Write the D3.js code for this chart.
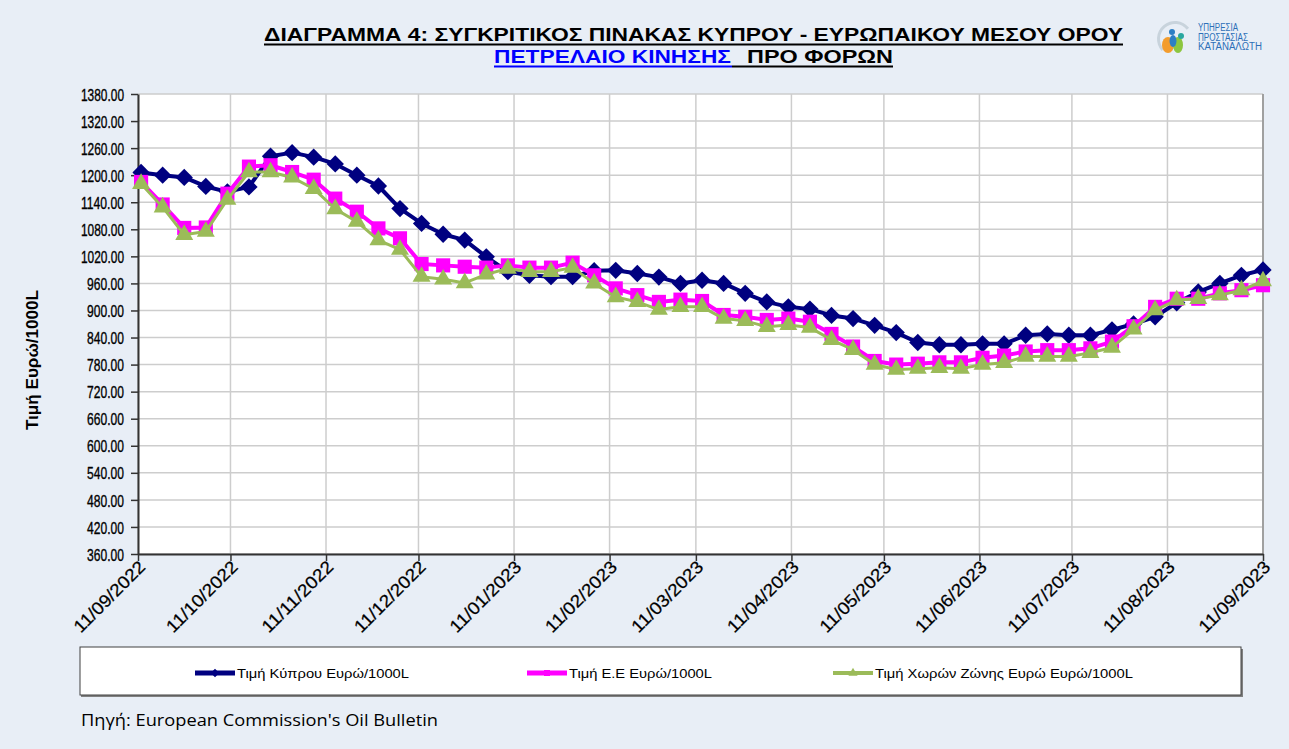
<!DOCTYPE html>
<html>
<head>
<meta charset="utf-8">
<script src="https://cdn.jsdelivr.net/npm/d3@7"></script>
<style>
  body { margin: 0; background: #e8eef6; }
  svg { display: block; }
</style>
</head>
<body>
<div id="chart"></div>
<script>
// weekly dates of the Oil Bulletin
var dates = ["2022-09-12","2022-09-19","2022-09-26","2022-10-03","2022-10-10","2022-10-17","2022-10-24","2022-10-31",
  "2022-11-07","2022-11-14","2022-11-21","2022-11-28","2022-12-05","2022-12-12","2022-12-19","2022-12-26",
  "2023-01-02","2023-01-09","2023-01-16","2023-01-23","2023-01-30","2023-02-06","2023-02-13","2023-02-20","2023-02-27",
  "2023-03-06","2023-03-13","2023-03-20","2023-03-27","2023-04-03","2023-04-10","2023-04-17","2023-04-24",
  "2023-05-01","2023-05-08","2023-05-15","2023-05-22","2023-05-29","2023-06-05","2023-06-12","2023-06-19","2023-06-26",
  "2023-07-03","2023-07-10","2023-07-17","2023-07-24","2023-07-31","2023-08-07","2023-08-14","2023-08-21","2023-08-28",
  "2023-09-04","2023-09-11"];

// Τιμή Κύπρου
var cyprus = [1206,1200,1195,1175,1163,1174,1242,1250,1240,1225,1200,1176,1126,1093,1069,1056,1019,986,978,975,975,
  988,989,982,974,960,967,960,938,919,908,903,889,882,867,851,829,824,824,826,826,845,848,845,845,857,870,886,917,941,960,978,990];
// Τιμή Ε.Ε
var eu = [1185,1135,1083,1084,1159,1219,1222,1207,1190,1148,1119,1082,1060,1003,1000,997,995,1000,995,995,1006,
  978,949,934,919,924,921,890,886,879,882,875,848,820,788,780,782,785,785,795,800,809,812,812,816,831,865,908,926,926,938,945,956];
// Τιμή Χωρών Ζώνης Ευρώ
var euroZone = [1181,1129,1068,1075,1146,1207,1207,1195,1170,1125,1097,1056,1035,975,969,961,980,993,986,986,995,
  960,930,919,902,908,908,882,877,864,868,862,835,813,780,769,771,773,771,780,784,798,798,798,806,818,858,901,923,926,934,945,965];

var yTicks = [360,420,480,540,600,660,720,780,840,900,960,1020,1080,1140,1200,1260,1320,1380];
var xTicks = ["2022-09-11","2022-10-11","2022-11-11","2022-12-11","2023-01-11","2023-02-11","2023-03-11",
  "2023-04-11","2023-05-11","2023-06-11","2023-07-11","2023-08-11","2023-09-11"];

var seriesNames = ["Τιμή Κύπρου Ευρώ/1000L", "Τιμή Ε.Ε Ευρώ/1000L", "Τιμή Χωρών Ζώνης Ευρώ Ευρώ/1000L"];

var svgWidth = 1289, svgHeight = 749;
var plot = { left: 138, right: 1263, top: 94, bottom: 554 };
var font = "Liberation Sans, Arial, sans-serif";

var parse = d3.timeParse("%Y-%m-%d");
var fmt = d3.timeFormat("%d/%m/%Y");

var svg = d3.select("#chart").append("svg")
  .attr("width", svgWidth)
  .attr("height", svgHeight);

svg.append("rect").attr("width", svgWidth).attr("height", svgHeight).attr("fill", "#e8eef6");

var xScale = d3.scaleTime()
  .domain([parse(xTicks[0]), parse(xTicks[xTicks.length - 1])])
  .range([plot.left, plot.right]);

var yScale = d3.scaleLinear()
  .domain([360, 1380])
  .range([plot.bottom, plot.top]);

// plot area
svg.append("rect")
  .attr("x", plot.left).attr("y", plot.top)
  .attr("width", plot.right - plot.left).attr("height", plot.bottom - plot.top)
  .attr("fill", "#fff");

// grid
svg.append("g").selectAll("line").data(yTicks).enter().append("line")
  .attr("x1", plot.left).attr("x2", plot.right)
  .attr("y1", d => yScale(d)).attr("y2", d => yScale(d))
  .attr("stroke", "#cdcdcd").attr("stroke-width", 1.5);
svg.append("g").selectAll("line").data(xTicks).enter().append("line")
  .attr("x1", d => xScale(parse(d))).attr("x2", d => xScale(parse(d)))
  .attr("y1", plot.top).attr("y2", plot.bottom)
  .attr("stroke", "#cdcdcd").attr("stroke-width", 1.5);
svg.append("line")
  .attr("x1", plot.right).attr("x2", plot.right).attr("y1", plot.top).attr("y2", plot.bottom)
  .attr("stroke", "#a0a0a0").attr("stroke-width", 2);

// axes
var leftAxis = d3.axisLeft(yScale).tickValues(yTicks).tickFormat(d3.format(".2f")).tickSize(7).tickSizeOuter(0);
var yAxisG = svg.append("g").attr("transform", `translate(${plot.left},0)`).call(leftAxis);
yAxisG.select(".domain").attr("stroke", "#333").attr("stroke-width", 2);
yAxisG.selectAll(".tick line").attr("stroke", "#333").attr("stroke-width", 1.5);
yAxisG.selectAll("text")
  .attr("font-family", font).attr("font-size", 17).attr("fill", "#000")
  .attr("stroke", "#000").attr("stroke-width", 0.35)
  .attr("x", -14).attr("dy", "0.36em")
  .attr("textLength", d => String(d3.format(".2f")(d)).length * 6.15)
  .attr("lengthAdjust", "spacingAndGlyphs");

var bottomAxis = d3.axisBottom(xScale).tickValues(xTicks.map(parse)).tickFormat(fmt).tickSize(7).tickSizeOuter(0);
var xAxisG = svg.append("g").attr("transform", `translate(0,${plot.bottom})`).call(bottomAxis);
xAxisG.select(".domain").attr("stroke", "#333").attr("stroke-width", 2);
xAxisG.selectAll(".tick line").attr("stroke", "#333").attr("stroke-width", 1.5);
xAxisG.selectAll("text")
  .attr("font-family", font).attr("font-size", 17.5).attr("fill", "#000")
  .attr("stroke", "#000").attr("stroke-width", 0.25)
  .attr("text-anchor", "end")
  .attr("dy", 0).attr("y", 0)
  .attr("textLength", 93).attr("lengthAdjust", "spacingAndGlyphs")
  .attr("transform", "translate(8,14) rotate(-45)");

// y title
svg.append("text")
  .attr("transform", "translate(38,360) rotate(-90)")
  .attr("text-anchor", "middle")
  .attr("font-family", font).attr("font-size", 16).attr("font-weight", "bold")
  .attr("textLength", 140).attr("lengthAdjust", "spacingAndGlyphs")
  .text("Τιμή Ευρώ/1000L");

// series
var series = [
  { name: seriesNames[0], values: cyprus, color: "#000080", symbol: d3.symbolSquare, size: 150, rot: 45, width: 4 },
  { name: seriesNames[1], values: eu, color: "#ff00ff", symbol: d3.symbolSquare, size: 200, rot: 0, width: 4 },
  { name: seriesNames[2], values: euroZone, color: "#9bbb59", symbol: d3.symbolTriangle, size: 140, rot: 0, width: 3 }
];

var line = d3.line()
  .x((d, i) => xScale(parse(dates[i])))
  .y(d => yScale(d));

series.forEach(function(s) {
  var g = svg.append("g");
  g.append("path").datum(s.values)
    .attr("d", line)
    .attr("fill", "none")
    .attr("stroke", s.color)
    .attr("stroke-width", s.width)
    .attr("stroke-linejoin", "round");
  g.selectAll("path.m").data(s.values).enter().append("path")
    .attr("class", "m")
    .attr("d", d3.symbol().type(s.symbol).size(s.size))
    .attr("transform", (d, i) => `translate(${xScale(parse(dates[i]))},${yScale(d)}) rotate(${s.rot})`)
    .attr("fill", s.color);
});

// legend
svg.append("rect").attr("x", 81).attr("y", 649).attr("width", 1162).attr("height", 48)
  .attr("fill", "#808080");
svg.append("rect").attr("x", 80).attr("y", 647).attr("width", 1161).attr("height", 48)
  .attr("fill", "#fff").attr("stroke", "#404040").attr("stroke-width", 1);

var legendX = [195, 527, 833];
var legendW = [172, 143, 258];
series.forEach(function(s, i) {
  var lx = legendX[i];
  svg.append("line").attr("x1", lx).attr("x2", lx + 40).attr("y1", 673).attr("y2", 673)
    .attr("stroke", s.color).attr("stroke-width", s.width + 1);
  svg.append("path")
    .attr("d", d3.symbol().type(s.symbol).size(36))
    .attr("transform", `translate(${lx + 20},673) rotate(${s.rot})`)
    .attr("fill", s.color);
  svg.append("text").attr("x", lx + 42).attr("y", 677.5)
    .attr("font-family", font).attr("font-size", 13).attr("fill", "#000")
    .attr("textLength", legendW[i]).attr("lengthAdjust", "spacingAndGlyphs")
    .text(s.name);
});

// source
svg.append("text").attr("x", 81).attr("y", 726)
  .attr("font-family", "Open Sans, Noto Sans, sans-serif").attr("font-size", 16).attr("fill", "#000")
  .attr("textLength", 357).attr("lengthAdjust", "spacingAndGlyphs")
  .text("Πηγή: European Commission's Oil Bulletin");

// title
svg.append("text").attr("x", 264).attr("y", 41)
  .attr("font-family", font).attr("font-size", 18).attr("font-weight", "bold").attr("fill", "#000")
  .attr("textLength", 859).attr("lengthAdjust", "spacingAndGlyphs")
  .text("ΔΙΑΓΡΑΜΜΑ 4: ΣΥΓΚΡΙΤΙΚΟΣ ΠΙΝΑΚΑΣ ΚΥΠΡΟΥ - ΕΥΡΩΠΑΙΚΟΥ ΜΕΣΟΥ ΟΡΟΥ");
svg.append("line").attr("x1", 264).attr("x2", 1123).attr("y1", 44.5).attr("y2", 44.5)
  .attr("stroke", "#000").attr("stroke-width", 2);

svg.append("text").attr("x", 494).attr("y", 63)
  .attr("font-family", font).attr("font-size", 18).attr("font-weight", "bold").attr("fill", "#0000ff")
  .attr("textLength", 237).attr("lengthAdjust", "spacingAndGlyphs")
  .text("ΠΕΤΡΕΛΑΙΟ ΚΙΝΗΣΗΣ");
svg.append("text").attr("x", 747).attr("y", 63)
  .attr("font-family", font).attr("font-size", 18).attr("font-weight", "bold").attr("fill", "#000")
  .attr("textLength", 146).attr("lengthAdjust", "spacingAndGlyphs")
  .text("ΠΡΟ  ΦΟΡΩΝ");
svg.append("line").attr("x1", 494).attr("x2", 732).attr("y1", 66.5).attr("y2", 66.5)
  .attr("stroke", "#0000ff").attr("stroke-width", 2);
svg.append("line").attr("x1", 732).attr("x2", 893).attr("y1", 66.5).attr("y2", 66.5)
  .attr("stroke", "#000").attr("stroke-width", 2);

// logo
var logo = svg.append("g").attr("transform", "translate(1175,39)");
logo.append("path").attr("d", d3.arc()({ innerRadius: 15, outerRadius: 18, startAngle: -2.3, endAngle: 0.9 }))
  .attr("fill", "#c8d3dc");
logo.append("circle").attr("cx", -3).attr("cy", -7).attr("r", 3).attr("fill", "#2c7fc4");
logo.append("ellipse").attr("cx", -7).attr("cy", 6).attr("rx", 6).attr("ry", 8).attr("fill", "#f39c2d");
logo.append("ellipse").attr("cx", 3).attr("cy", 6).attr("rx", 5).attr("ry", 8).attr("fill", "#8cc63f");
logo.append("circle").attr("cx", 6).attr("cy", -3).attr("r", 3).attr("fill", "#2aa7a0");
logo.append("ellipse").attr("cx", -2).attr("cy", 2).attr("rx", 3.5).attr("ry", 6).attr("fill", "#2c7fc4");

var logoText = ["ΥΠΗΡΕΣΙΑ", "ΠΡΟΣΤΑΣΙΑΣ", "ΚΑΤΑΝΑΛΩΤΗ"];
var logoW = [40, 50, 64];
logoText.forEach(function(t, i) {
  svg.append("text").attr("x", 1198).attr("y", 31 + i * 9.5)
    .attr("font-family", font).attr("font-size", 10).attr("fill", "#2c6fb8")
    .attr("textLength", logoW[i]).attr("lengthAdjust", "spacingAndGlyphs")
    .text(t);
});
</script>
</body>
</html>
